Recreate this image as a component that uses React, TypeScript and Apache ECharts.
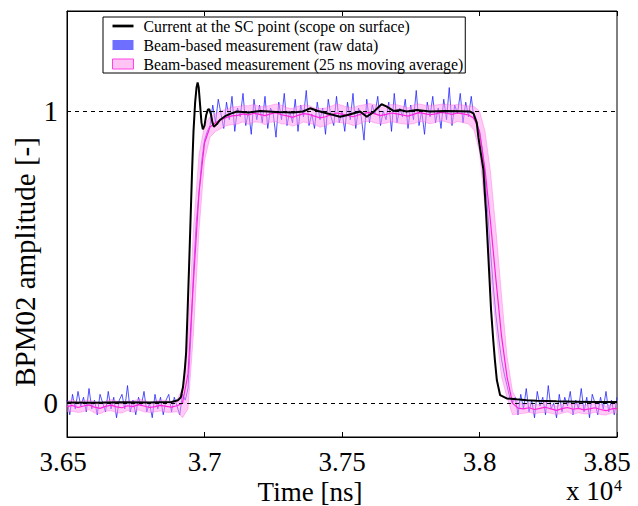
import { useEffect, useRef } from "react";
import * as echarts from "echarts";

const FONT = '"Liberation Serif", "Times New Roman", serif';

const seriesNames = [
  "Current at the SC point (scope on surface)",
  "Beam-based measurement (raw data)",
  "Beam-based measurement (25 ns moving average)",
];

const yTickValues = [0, 1];

// Black: current at SC point (time ns, amplitude)
const currentTime = [
  36500, 36600, 36700, 36800, 36880, 36904, 36914, 36922, 36928, 36933, 36938, 36944, 36950, 36955,
  36960, 36966, 36971, 36975, 36979, 36984, 36989, 36994, 37000, 37006, 37012, 37017, 37023, 37029,
  37034, 37045, 37056, 37075, 37093, 37118, 37160, 37202, 37260, 37322, 37358, 37384, 37413, 37444,
  37493, 37517, 37566, 37590, 37613, 37644, 37663, 37687, 37711, 37735, 37772, 37820, 37875, 37929,
  37966, 37978, 37990, 37996, 38004, 38014, 38024, 38035, 38042, 38050, 38056, 38063, 38075, 38099,
  38135, 38172, 38208, 38280, 38354, 38430, 38500,
];
const currentAmp = [
  0.002, 0.001, 0.003, 0.002, 0.004, 0.01, 0.02, 0.056, 0.11, 0.17, 0.3, 0.47, 0.65, 0.8,
  0.93, 1.03, 1.08, 1.097, 1.08, 1.02, 0.96, 0.937, 0.95, 0.985, 1.004, 1.006, 0.99, 0.96,
  0.946, 0.955, 0.969, 0.982, 0.99, 0.998, 0.995, 1.0, 0.996, 0.995, 0.998, 1.009, 1.0, 0.992,
  0.98, 0.985, 0.998, 0.98, 0.995, 1.023, 1.015, 1.0, 1.003, 0.998, 1.003, 0.998, 1.0, 0.999,
  0.998, 0.992, 0.96, 0.91, 0.86, 0.8, 0.65, 0.45, 0.32, 0.216, 0.147, 0.079, 0.027, 0.016,
  0.013, 0.01, 0.008, 0.006, 0.005, 0.004, 0.004,
];

// Blue: raw beam-based measurement, sampled every 10 ns from 36500 ns
const rawStart = 36500;
const rawStep = 10;
const rawAmp = [
  0.01, -0.04, 0.03, -0.02, 0.04, -0.01, 0.02, -0.03, 0.05, -0.02, 0.01, -0.04, 0.03, 0.0, -0.03,
  0.04, -0.02, 0.02, -0.05, 0.01, 0.03, -0.02, 0.06, -0.03, 0.01, -0.04, 0.02, -0.01, 0.04, -0.03,
  0.0, -0.05, 0.03, -0.02, 0.02, -0.04, 0.01, 0.03, -0.03, 0.02, -0.01, -0.04, 0.03, 0.01,
  0.05, 0.22, 0.45, 0.62, 0.72, 0.83, 0.9, 0.93,
  0.95, 1.02, 0.96, 1.04, 0.99, 0.94, 1.03, 0.97, 1.05, 0.93, 1.01, 0.98, 1.06, 0.95, 1.0, 0.92,
  1.04, 0.97, 1.02, 0.96, 1.05, 0.94, 1.01, 0.99, 0.91, 1.03, 0.97, 1.06, 0.95, 1.0, 0.96, 1.04,
  0.93, 1.02, 0.98, 1.07, 0.95, 0.99, 0.94, 1.03, 0.97, 1.01, 0.92, 1.04, 0.98, 0.95, 1.05, 0.96,
  1.0, 0.93, 1.03, 0.97, 1.06, 0.94, 1.01, 0.98, 0.9, 1.04, 0.96, 1.02, 0.99, 1.05, 0.95, 1.0,
  0.97, 1.03, 0.93, 1.06, 0.96, 1.01, 0.98, 1.04, 0.94, 1.02, 0.97, 1.07, 0.95, 1.0, 0.92, 1.03,
  0.98, 1.05, 0.96, 1.01, 0.94, 1.04, 0.97, 1.08, 0.95, 1.02, 0.99, 1.06, 0.96, 1.03, 0.98, 1.05,
  0.97,
  0.96, 0.93, 0.87, 0.78, 0.65, 0.52, 0.4, 0.3, 0.22, 0.15, 0.1, 0.06, 0.02, 0.0,
  0.02, -0.04, 0.03, -0.02, 0.05, -0.03, 0.01, -0.05, 0.04, -0.01, 0.02, -0.04, 0.06, -0.02, 0.0,
  -0.05, 0.03, -0.03, 0.02, -0.01, 0.04, -0.04, 0.01, -0.02, 0.05, -0.03, 0.02, -0.05, 0.03, 0.0,
  -0.04, 0.02, -0.02, 0.04, -0.03, 0.01, -0.04, 0.02,
];

// Pink: 25 ns moving average, every 20 ns from 36500 ns (centre and half band width)
const avgStart = 36500;
const avgStep = 20;
const avgAmp = [
  -0.012, -0.008, -0.015, -0.01, -0.006, -0.014, -0.018, -0.011, -0.007, -0.013, -0.016, -0.009,
  -0.012, -0.005, -0.01, -0.015, -0.012, -0.008, -0.011, -0.014, -0.009,
  0.0, 0.1, 0.42, 0.72, 0.89, 0.945, 0.96, 0.97, 0.978, 0.983,
  0.985, 0.99, 0.986, 0.992, 0.988, 0.984, 0.99, 0.994, 0.987, 0.983, 0.978, 0.985, 0.991, 0.988,
  0.982, 0.976, 0.98, 0.987, 0.993, 0.989, 0.985, 0.98, 0.986, 0.992, 0.995, 0.99, 0.984, 0.988,
  0.993, 0.99, 0.986, 0.982, 0.988, 0.994, 0.991, 0.987, 0.99, 0.995, 0.992, 0.988, 0.993, 0.99,
  0.986,
  0.975, 0.93, 0.8, 0.62, 0.42, 0.23, 0.09, 0.0, -0.017,
  -0.02, -0.016, -0.022, -0.018, -0.014, -0.02, -0.025, -0.019, -0.015, -0.021, -0.018, -0.023,
  -0.02, -0.016, -0.022, -0.026, -0.02, -0.018,
];
const avgHalfWidth = [
  0.018, 0.02, 0.017, 0.019, 0.016, 0.02, 0.018, 0.017, 0.019, 0.02, 0.018, 0.016, 0.019, 0.018,
  0.02, 0.017, 0.018, 0.019, 0.02, 0.018, 0.02,
  0.05, 0.12, 0.18, 0.13, 0.06, 0.035, 0.03, 0.03, 0.028, 0.03,
  0.03, 0.028, 0.032, 0.03, 0.027, 0.031, 0.029, 0.03, 0.032, 0.028, 0.03, 0.031, 0.029, 0.03,
  0.028, 0.032, 0.03, 0.029, 0.031, 0.03, 0.028, 0.03, 0.032, 0.029, 0.03, 0.031, 0.028, 0.03,
  0.029, 0.031, 0.03, 0.028, 0.032, 0.03, 0.029, 0.031, 0.03, 0.028, 0.03, 0.032, 0.029, 0.03,
  0.031,
  0.04, 0.07, 0.13, 0.17, 0.17, 0.14, 0.07, 0.04, 0.02,
  0.015, 0.016, 0.014, 0.015, 0.017, 0.015, 0.014, 0.016, 0.015, 0.017, 0.015, 0.014, 0.016,
  0.015, 0.017, 0.015, 0.014, 0.016,
];

export default function App() {
  const ref = useRef<HTMLDivElement>(null);
  useEffect(() => {
    if (!ref.current) return;
    const chart = echarts.init(ref.current, undefined, { renderer: "svg" });
    const rawData = rawAmp.map((v, i) => [rawStart + i * rawStep, v]);
    const avgT = avgAmp.map((_, i) => avgStart + i * avgStep);
    const mean = avgAmp.map((v, i) => [avgT[i], v]);
    const cur = currentTime.map((t, i) => [t, currentAmp[i]]);

    const xMin = 36500;
    const xMax = 38500;
    const xAxisCommon = {
      type: "value" as const,
      min: xMin,
      max: xMax,
      interval: 500,
      splitLine: { show: false },
      axisLine: { show: true, onZero: false, lineStyle: { color: "#000", width: 1 } },
      axisTick: { show: true, inside: true, length: 5, lineStyle: { color: "#000" } },
    };

    chart.setOption({
      animation: false,
      backgroundColor: "#fff",
      grid: {
        left: 67,
        right: 21,
        top: 11,
        bottom: 69,
        show: true,
        borderColor: "#000",
        borderWidth: 1,
        containLabel: false,
        outerBoundsMode: "none",
      },
      legend: {
        orient: "vertical",
        left: 103,
        top: 17,
        backgroundColor: "#fff",
        borderColor: "#000",
        borderWidth: 1,
        padding: [1, 2, 1, 9],
        itemGap: 3,
        itemWidth: 21,
        itemHeight: 10,
        textStyle: { fontFamily: FONT, fontSize: 15.8, color: "#000", padding: [0, 0, 0, 5] },
        data: [
          { name: seriesNames[0], icon: "path://M0,0H20V2.6H0Z", itemStyle: { color: "#000" } },
          { name: seriesNames[1], icon: "rect", itemStyle: { color: "#6e6eff" } },
          {
            name: seriesNames[2],
            icon: "rect",
            itemStyle: { color: "#ffc4f4", borderColor: "#ff44e4", borderWidth: 1 },
          },
        ],
      },
      xAxis: [
        {
          ...xAxisCommon,
          position: "bottom",
          axisLabel: {
            color: "#000",
            fontFamily: FONT,
            fontSize: 27,
            lineHeight: 27,
            margin: 11,
            formatter: (v: number) => {
              const s = String(Math.round(v / 10) / 1000);
              if (v === xMin) return "{mn|" + s + "}";
              if (v === xMax) return "{mx|" + s + "}";
              return s;
            },
            rich: {
              mn: { fontFamily: FONT, fontSize: 27, lineHeight: 27, color: "#000", padding: [0, 8, 0, 0] },
              mx: { fontFamily: FONT, fontSize: 27, lineHeight: 27, color: "#000", padding: [0, 20, 0, 0] },
            },
          },
          name: "Time [ns]",
          nameLocation: "middle",
          nameGap: 41,
          nameMoveOverlap: false,
          nameTextStyle: {
            fontFamily: FONT,
            fontSize: 27,
            lineHeight: 27,
            color: "#000",
            padding: [0, 64, 0, 0],
          },
        },
        { ...xAxisCommon, position: "top", axisLabel: { show: false } },
      ],
      yAxis: {
        type: "value",
        min: -0.116,
        max: 1.342,
        splitLine: { show: false },
        axisLine: { show: true, lineStyle: { color: "#000" } },
        axisTick: { show: false },
        axisLabel: {
          customValues: yTickValues,
          color: "#000",
          fontFamily: FONT,
          fontSize: 29,
          margin: 9,
        },
        name: "BPM02 amplitude [-]",
        nameLocation: "middle",
        nameGap: 28,
        nameMoveOverlap: false,
        nameTextStyle: { fontFamily: FONT, fontSize: 29, color: "#000", padding: [0, 76, 0, 0] },
      },
      series: [
        {
          name: seriesNames[1],
          type: "line",
          data: rawData,
          showSymbol: false,
          symbol: "none",
          z: 2,
          itemStyle: { color: "#6e6eff" },
          lineStyle: { color: "rgba(25,25,255,0.75)", width: 1 },
          markLine: {
            silent: true,
            symbol: "none",
            label: { show: false },
            lineStyle: { color: "#000", type: [4, 4], width: 1 },
            data: yTickValues.map((v) => ({ yAxis: v })),
          },
        },
        {
          name: "avg-band",
          type: "custom",
          data: mean,
          z: 3,
          silent: true,
          renderItem: (params: any, api: any) => {
            if (params.dataIndex !== 0) return null;
            const upper = avgAmp.map((v, i) => api.coord([avgT[i], v + avgHalfWidth[i]]));
            const lower = avgAmp.map((v, i) => api.coord([avgT[i], v - avgHalfWidth[i]])).reverse();
            return {
              type: "group",
              children: [
                {
                  type: "polygon",
                  shape: { points: upper.concat(lower) },
                  style: { fill: "rgba(255,150,238,0.5)", stroke: "none" },
                },
                {
                  type: "polyline",
                  shape: { points: upper },
                  style: { fill: "none", stroke: "rgba(255,90,230,0.45)", lineWidth: 0.8 },
                },
                {
                  type: "polyline",
                  shape: { points: lower },
                  style: { fill: "none", stroke: "rgba(255,90,230,0.45)", lineWidth: 0.8 },
                },
              ],
            };
          },
        },
        {
          name: seriesNames[2],
          type: "line",
          data: mean,
          showSymbol: false,
          symbol: "none",
          z: 4,
          itemStyle: { color: "#ffc4f4" },
          lineStyle: { color: "#ff22dd", width: 1.2 },
        },
        {
          name: seriesNames[0],
          type: "line",
          data: cur,
          showSymbol: false,
          symbol: "none",
          z: 5,
          itemStyle: { color: "#000" },
          lineStyle: { color: "#000", width: 2 },
        },
      ],
      graphic: [
        {
          type: "text",
          left: 566,
          top: 477,
          style: { text: "x 10", font: '27px "Liberation Serif"', lineHeight: 27, fill: "#000" },
        },
        {
          type: "text",
          left: 614,
          top: 477,
          style: { text: "4", font: '16px "Liberation Serif"', lineHeight: 14, fill: "#000" },
        },
      ],
    });
    return () => chart.dispose();
  }, []);
  return (
    <div
      ref={ref}
      style={{ position: "absolute", left: 0, top: 0, width: 638, height: 506 }}
    />
  );
}
